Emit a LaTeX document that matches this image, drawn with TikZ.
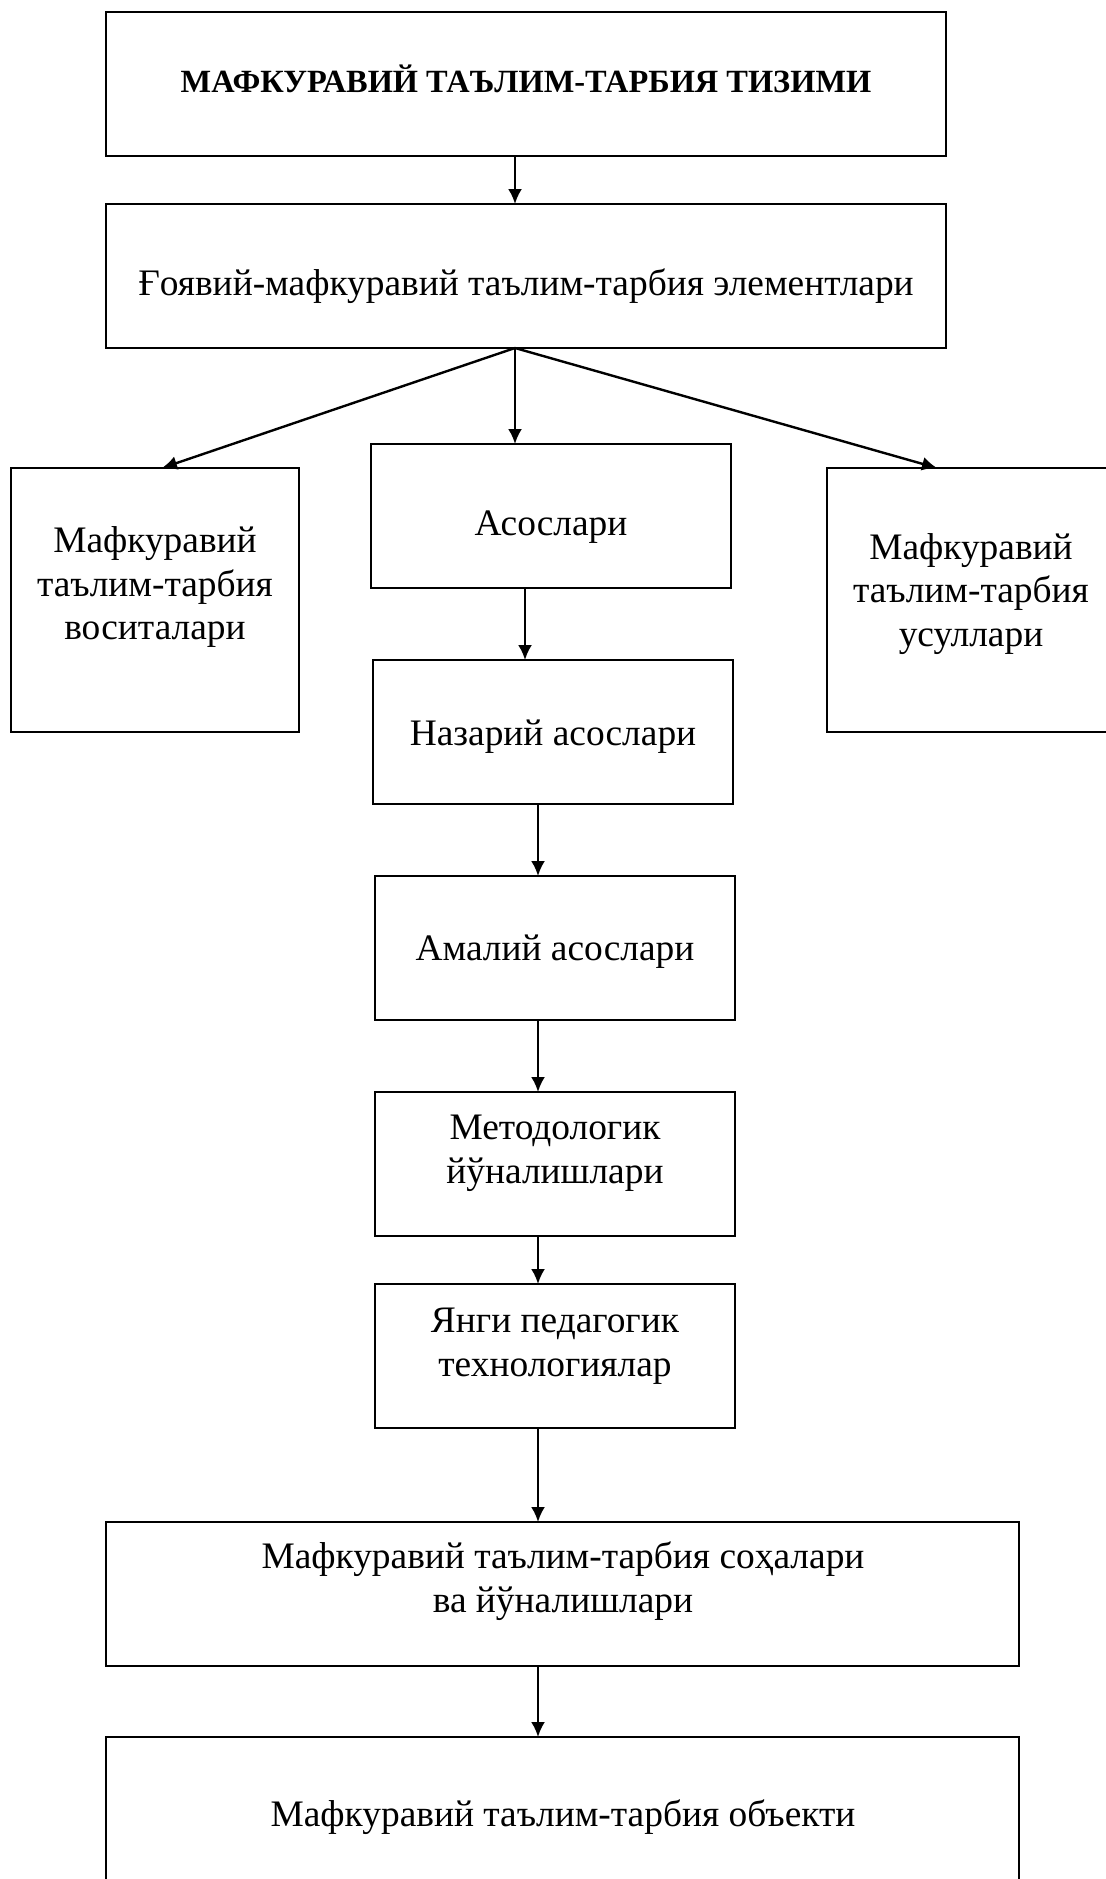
\documentclass[tikz,border=0pt]{standalone}
\usepackage{fontspec}
\setmainfont{Liberation Serif}
\usetikzlibrary{arrows.meta}

\tikzset{
    quti/.style={draw, line width=1pt, rectangle, inner sep=0pt, outer sep=0pt},
    ustun/.style={quti, minimum width=180pt, minimum height=72pt},
    keng/.style={quti, minimum width=456.5pt, minimum height=72pt},
    yon/.style={quti, minimum width=144pt, minimum height=132pt},
    matn/.style={align=center, inner sep=0pt, font=\fontsize{18.7}{21.8}\selectfont},
    arr/.style={line width=1.2pt, -{Latex[length=7.5pt,width=7pt]}}
}

\begin{document}
\begin{tikzpicture}[x=0.5pt, y=-0.5pt]
    \useasboundingbox (0,0) rectangle (1105,1879);

    % boxes
    \node [quti, minimum width=420pt, minimum height=72pt] (tizim) at (526,84) {};
    \node [quti, minimum width=420pt, minimum height=72pt] (elem) at (526,276) {};
    \node [yon] (vosit) at (155,600) {};
    \node [ustun] (asos) at (551,516) {};
    \node [yon] (usul) at (971,600) {};
    \node [ustun] (nazar) at (553,732) {};
    \node [ustun] (amal) at (555,948) {};
    \node [ustun] (metod) at (555,1164) {};
    \node [ustun] (texno) at (555,1356) {};
    \node [keng] (soha) at (562,1594) {};
    \node [keng] (obyekt) at (562,1809) {};

    % texts
    \node [matn, font=\fontsize{16.2}{20}\selectfont\bfseries] (tizim-m) at (526,79) {МАФКУРАВИЙ ТАЪЛИМ-ТАРБИЯ ТИЗИМИ};
    \node [matn] (elem-m) at (526,286) {Ғоявий-мафкуравий таълим-тарбия элементлари};
    \node [matn] (vosit-m) at (155,587) {Мафкуравий\\таълим-тарбия\\воситалари};
    \node [matn] (asos-m) at (551,527) {Асослари};
    \node [matn] (usul-m) at (971,594) {Мафкуравий\\таълим-тарбия\\усуллари};
    \node [matn] (nazar-m) at (553,737) {Назарий асослари};
    \node [matn] (amal-m) at (555,952) {Амалий асослари};
    \node [matn] (metod-m) at (555,1153) {Методологик\\йўналишлари};
    \node [matn] (texno-m) at (555,1346) {Янги педагогик\\технологиялар};
    \node [matn] (soha-m) at (563,1581) {Мафкуравий таълим-тарбия соҳалари\\ва йўналишлари};
    \node [matn] (obyekt-m) at (563,1817) {Мафкуравий таълим-тарбия объекти};

    % arrows
    \draw [arr] ([shift={(-11,0)}]tizim.south) -- ([shift={(-11,0)}]elem.north);
    \coordinate (fan) at ([shift={(-11,0)}]elem.south);
    \draw [arr] (fan) -- ([shift={(7,0)}]vosit.north);
    \draw [arr] (fan) -- (fan |- asos.north);
    \draw [arr] (fan) -- ([shift={(-34,0)}]usul.north);
    \draw [arr] ([shift={(-26,0)}]asos.south) -- ([shift={(-28,0)}]nazar.north);
    \draw [arr] ([shift={(-15,0)}]nazar.south) -- ([shift={(-17,0)}]amal.north);
    \draw [arr] ([shift={(-17,0)}]amal.south) -- ([shift={(-17,0)}]metod.north);
    \draw [arr] ([shift={(-17,0)}]metod.south) -- ([shift={(-17,0)}]texno.north);
    \draw [arr] ([shift={(-17,0)}]texno.south) -- ([shift={(-24,0)}]soha.north);
    \draw [arr] ([shift={(-24,0)}]soha.south) -- ([shift={(-24,0)}]obyekt.north);

\end{tikzpicture}
\end{document}
